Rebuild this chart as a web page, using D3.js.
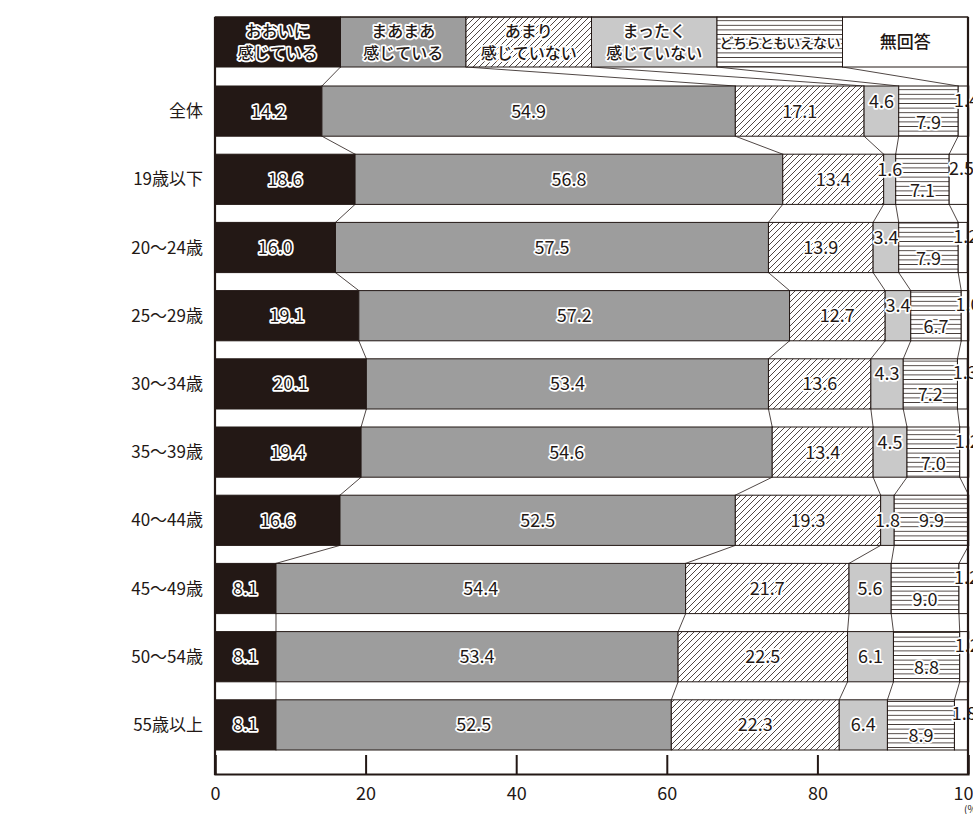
<!DOCTYPE html>
<html>
<head>
<meta charset="utf-8">
<script src="https://cdn.jsdelivr.net/npm/d3@7"></script>
<style>
  body { margin: 0; background: #fff; }
  svg text { font-family: "Noto Sans CJK JP", "Noto Sans", sans-serif; }
</style>
</head>
<body>
<svg id="chart" width="973" height="814"></svg>
<script>
// categories (rows)
var categories = ["全体", "19歳以下", "20～24歳", "25～29歳", "30～34歳", "35～39歳",
                  "40～44歳", "45～49歳", "50～54歳", "55歳以上"];
// legend / series names
var seriesNames = [["おおいに", "感じている"], ["まあまあ", "感じている"], ["あまり", "感じていない"],
                   ["まったく", "感じていない"], ["どちらともいえない"], ["無回答"]];
// series values, one array per answer
var ooini    = [14.2, 18.6, 16.0, 19.1, 20.1, 19.4, 16.6, 8.1, 8.1, 8.1];
var maamaa   = [54.9, 56.8, 57.5, 57.2, 53.4, 54.6, 52.5, 54.4, 53.4, 52.5];
var amari    = [17.1, 13.4, 13.9, 12.7, 13.6, 13.4, 19.3, 21.7, 22.5, 22.3];
var mattaku  = [4.6, 1.6, 3.4, 3.4, 4.3, 4.5, 1.8, 5.6, 6.1, 6.4];
var dochira  = [7.9, 7.1, 7.9, 6.7, 7.2, 7.0, 9.9, 9.0, 8.8, 8.9];
var mukaitou = [1.4, 2.5, 1.2, 1.0, 1.3, 1.2, 0, 1.2, 1.2, 1.8];
var xTicks = [0, 20, 40, 60, 80, 100];

var series = [ooini, maamaa, amari, mattaku, dochira, mukaitou];
var ink = "#231815";

var svg = d3.select("#chart");

// patterns
var defs = svg.append("defs");
var diag = defs.append("pattern").attr("id", "diag")
  .attr("patternUnits", "userSpaceOnUse").attr("width", 6).attr("height", 6);
diag.append("rect").attr("width", 6).attr("height", 6).attr("fill", "#fff");
diag.append("path").attr("d", "M-1,7 L7,-1 M-1,1 L1,-1 M5,7 L7,5")
  .attr("stroke", ink).attr("stroke-width", 0.8);
var horiz = defs.append("pattern").attr("id", "horiz")
  .attr("patternUnits", "userSpaceOnUse").attr("width", 8).attr("height", 4.6);
horiz.append("rect").attr("width", 8).attr("height", 4.6).attr("fill", "#fff");
horiz.append("line").attr("x1", 0).attr("x2", 8).attr("y1", 2.3).attr("y2", 2.3)
  .attr("stroke", ink).attr("stroke-width", 0.8);

var fills = [ink, "#9d9d9d", "url(#diag)", "#c9c9c9", "url(#horiz)", "#fff"];

// scales
var x = d3.scaleLinear().domain([0, 100]).range([215, 968]);
var y = d3.scaleBand().domain(categories).range([86, 750]).paddingInner(0.264).paddingOuter(0);
var legendTop = 17, legendH = 50, axisY = 774;

// stacked data
var table = categories.map(function(c, i) {
  var row = { cat: c };
  series.forEach(function(s, k) { row["s" + k] = s[i]; });
  return row;
});
var keys = series.map(function(s, k) { return "s" + k; });
var stacked = d3.stack().keys(keys)(table);

// connector lines: boundaries between consecutive rows
var legendBounds = d3.range(1, 6).map(function(k) { return 215 + (968 - 215) * k / 6; });
var conn = svg.append("g").attr("stroke", ink).attr("stroke-width", 0.8);
d3.range(5).forEach(function(k) {
  conn.append("line")
    .attr("x1", legendBounds[k]).attr("y1", legendTop + legendH)
    .attr("x2", x(stacked[k][0][1])).attr("y2", y(categories[0]));
  for (var i = 1; i < categories.length; i++) {
    conn.append("line")
      .attr("x1", x(stacked[k][i - 1][1])).attr("y1", y(categories[i - 1]) + y.bandwidth())
      .attr("x2", x(stacked[k][i][1])).attr("y2", y(categories[i]));
  }
});

// bars
svg.append("g").selectAll("g").data(stacked).enter().append("g")
  .attr("fill", function(d, k) { return fills[k]; })
  .selectAll("rect").data(function(d) { return d; }).enter().append("rect")
    .attr("x", function(d) { return x(d[0]); })
    .attr("y", function(d) { return y(d.data.cat); })
    .attr("width", function(d) { return x(d[1]) - x(d[0]); })
    .attr("height", y.bandwidth())
    .attr("stroke", ink).attr("stroke-width", 1);

// legend boxes
var lg = svg.append("g");
seriesNames.forEach(function(name, k) {
  var x0 = 215 + (968 - 215) * k / 6, w = (968 - 215) / 6;
  lg.append("rect").attr("x", x0).attr("y", legendTop).attr("width", w).attr("height", legendH)
    .attr("fill", fills[k]).attr("stroke", ink).attr("stroke-width", 1);
  var t = lg.append("text").attr("text-anchor", "middle").attr("font-weight", 500)
    .attr("fill", ink).attr("stroke", "#fff").attr("stroke-width", k === 5 ? 0 : 3.5)
    .attr("paint-order", "stroke").attr("stroke-linejoin", "round")
    .attr("font-size", 16);
  if (name.length === 2) {
    t.append("tspan").attr("x", x0 + w / 2).attr("y", legendTop + 20).text(name[0]);
    t.append("tspan").attr("x", x0 + w / 2).attr("y", legendTop + 42).text(name[1]);
  } else {
    t.attr("x", x0 + w / 2).attr("y", legendTop + 31).text(name[0]);
    if (k === 4) t.attr("font-size", 14).attr("letter-spacing", -0.6);
    if (k === 5) t.attr("font-size", 17);
  }
});

// value labels
var labels = svg.append("g").attr("text-anchor", "middle").attr("font-size", 18)
  .attr("fill", ink).attr("stroke", "#fff").attr("stroke-width", 3.5)
  .attr("paint-order", "stroke").attr("stroke-linejoin", "round");
stacked.forEach(function(layer, k) {
  layer.forEach(function(d, i) {
    var v = d[1] - d[0];
    if (v <= 0) return;
    var cy = y(d.data.cat) + y.bandwidth() / 2;
    var hasNA = mukaitou[i] > 0;
    var dy = 0;
    if (k === 5) dy = -11;
    if (k === 4 && hasNA) dy = 11;
    if (k === 3 && hasNA && v < 5) dy = -10;
    var cx = (x(d[0]) + x(d[1])) / 2;
    if (k === 5) cx += 3;
    labels.append("text").attr("x", cx).attr("y", cy + dy).attr("dy", "0.36em")
      .text(d3.format(".1f")(v));
  });
});

// frame and axis
var fr = svg.append("g").attr("stroke", ink).attr("fill", "none");
fr.append("line").attr("x1", x(0)).attr("x2", x(0)).attr("y1", legendTop).attr("y2", axisY + 1)
  .attr("stroke-width", 2.2);
fr.append("line").attr("x1", x(100)).attr("x2", x(100)).attr("y1", legendTop).attr("y2", axisY + 1)
  .attr("stroke-width", 2.2);
fr.append("line").attr("x1", x(0)).attr("x2", x(100)).attr("y1", legendTop).attr("y2", legendTop)
  .attr("stroke-width", 1.2);

var xAxis = svg.append("g").attr("transform", "translate(0," + axisY + ")")
  .call(d3.axisBottom(x).tickValues(xTicks).tickSize(-19).tickPadding(13).tickFormat(d3.format("d")));
xAxis.select(".domain").attr("stroke", ink).attr("stroke-width", 2.2);
xAxis.selectAll(".tick line").attr("stroke", ink).attr("stroke-width", 2);
xAxis.selectAll(".tick text").attr("font-size", 18).attr("fill", ink)
  .attr("font-family", "'Noto Sans CJK JP', sans-serif");
svg.append("text").attr("x", x(100) - 4).attr("y", 813).attr("font-size", 10).attr("fill", ink)
  .text("(%)");

// category labels
svg.append("g").attr("text-anchor", "end").attr("font-size", 17).attr("fill", ink)
  .selectAll("text").data(categories).enter().append("text")
    .attr("x", 203)
    .attr("y", function(d) { return y(d) + y.bandwidth() / 2; })
    .attr("dy", "0.36em")
    .text(function(d) { return d; });
</script>
</body>
</html>
